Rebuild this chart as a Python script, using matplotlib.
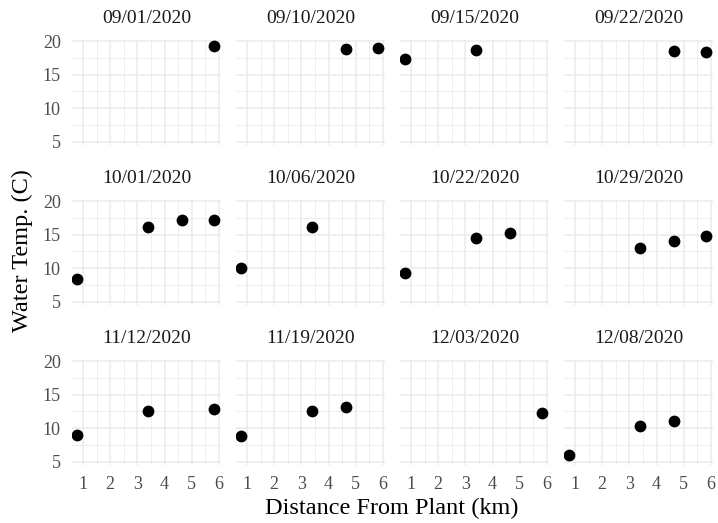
import numpy as np
import matplotlib
matplotlib.use("Agg")
from matplotlib import pyplot as plt

plt.rcParams['font.family'] = ['Liberation Serif', 'DejaVu Serif']

# Fechas de muestreo (paneles)
fechas = ["09/01/2020", "09/10/2020", "09/15/2020", "09/22/2020",
          "10/01/2020", "10/06/2020", "10/22/2020", "10/29/2020",
          "11/12/2020", "11/19/2020", "12/03/2020", "12/08/2020"]

# Distancia desde la planta (km) por fecha
distancias = [
    [5.8],
    [4.65, 5.8],
    [0.8, 3.4],
    [4.65, 5.8],
    [0.8, 3.4, 4.65, 5.8],
    [0.8, 3.4],
    [0.8, 3.4, 4.65],
    [3.4, 4.65, 5.8],
    [0.8, 3.4, 5.8],
    [0.8, 3.4, 4.65],
    [5.8],
    [0.8, 3.4, 4.65],
]

# Temperatura del agua (C) por fecha
temperaturas = [
    [19.3],
    [18.8, 18.9],
    [17.3, 18.6],
    [18.5, 18.3],
    [8.4, 16.2, 17.1, 17.2],
    [10.0, 16.2],
    [9.2, 14.5, 15.3],
    [13.0, 14.0, 14.8],
    [8.9, 12.6, 12.9],
    [8.8, 12.5, 13.2],
    [12.2],
    [6.0, 10.3, 11.1],
]

W, H = 718, 523
fig = plt.figure(figsize=(W / 100, H / 100), dpi=100)

lefts = [72, 236, 400, 564]
tops = [40, 200, 360]
ancho, alto = 149, 105

gris = "#4D4D4D"
for i, fecha in enumerate(fechas):
    fila, col = divmod(i, 4)
    ax = fig.add_axes([lefts[col] / W, 1 - (tops[fila] + alto) / H, ancho / W, alto / H])
    ax.scatter(distancias[i], temperaturas[i], s=72, color="black", zorder=3, linewidths=0)
    ax.set_xlim(0.6, 6.07)
    ax.set_ylim(4.5, 20.15)
    ax.set_xticks([1, 2, 3, 4, 5, 6])
    ax.set_xticks(np.arange(1.5, 6.1, 1.0), minor=True)
    ax.set_yticks([5, 10, 15, 20])
    ax.set_yticks([7.5, 12.5, 17.5], minor=True)
    ax.grid(True, which="major", color="#EBEBEB", linewidth=1.1)
    ax.grid(True, which="minor", color="#EBEBEB", linewidth=0.6)
    ax.set_axisbelow(True)
    for s in ax.spines.values():
        s.set_visible(False)
    ax.tick_params(which="both", length=0, colors=gris, labelsize=13, pad=8)
    if col != 0:
        ax.tick_params(axis="y", labelleft=False)
    if fila != 2:
        ax.tick_params(axis="x", labelbottom=False)
    ax.set_title(fecha, fontsize=14, color="#1A1A1A", pad=12)

fig.text(392 / W, 1 - 508 / H, "Distance From Plant (km)", ha="center", va="center", fontsize=17.5)
fig.text(22 / W, 1 - 251 / H, "Water Temp. (C)", ha="center", va="center", rotation=90, fontsize=17.5)

fig.savefig("out.png", dpi=100, facecolor="white")
